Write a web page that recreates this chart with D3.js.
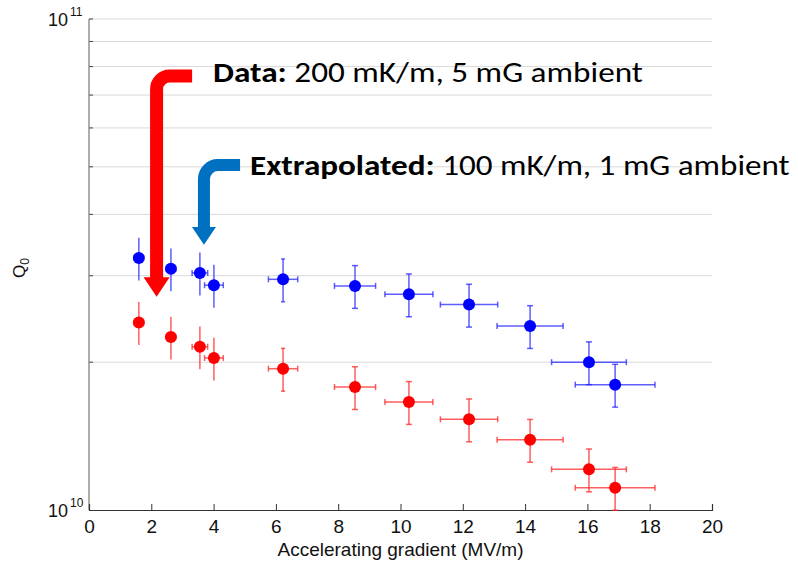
<!DOCTYPE html>
<html>
<head>
<meta charset="utf-8">
<script src="https://cdn.jsdelivr.net/npm/d3@7"></script>
<style>
  html, body { margin: 0; padding: 0; background: #fff; }
  svg { display: block; }
</style>
</head>
<body>
<svg id="chart" width="798" height="565"></svg>
<script>
// ---- Data ----
const gradient      = [1.6, 2.63, 3.56, 4.01, 6.23, 8.54, 10.27, 12.2, 14.16, 16.05, 16.89];
const gradientErr   = [0.15, 0.15, 0.25, 0.3, 0.47, 0.66, 0.77, 0.92, 1.06, 1.2, 1.28];
const q0Extrapolated = [3.26e10, 3.10e10, 3.04e10, 2.87e10, 2.95e10, 2.86e10, 2.75e10, 2.62e10, 2.37e10, 2.0e10, 1.80e10];
const q0Data         = [2.41e10, 2.25e10, 2.15e10, 2.04e10, 1.94e10, 1.78e10, 1.66e10, 1.53e10, 1.39e10, 1.21e10, 1.11e10];
const q0RelErr       = [0.1, 0.1, 0.1, 0.1, 0.1, 0.1, 0.1, 0.1, 0.1, 0.1, 0.1];
const xTicks = [0, 2, 4, 6, 8, 10, 12, 14, 16, 18, 20];
const yMajorTicks = [1e10, 1e11];
const yGridTicks = [2e10, 3e10, 4e10, 5e10, 6e10, 7e10, 8e10, 9e10, 1e11];
const xTitle = "Accelerating gradient (MV/m)";
const dataLabelBold = "Data:";
const dataLabelRest = " 200 mK/m, 5 mG ambient";
const extraLabelBold = "Extrapolated:";
const extraLabelRest = " 100 mK/m, 1 mG ambient";

const svg = d3.select("#chart");
const M = { left: 89, right: 712, top: 19, bottom: 510 };
const AXF = "Arial, 'Liberation Sans', Helvetica, sans-serif";

const x = d3.scaleLinear().domain([0, 20]).range([M.left, M.right]);
const y = d3.scaleLog().domain([1e10, 1e11]).range([M.bottom, M.top]);

// gridlines
svg.append("g").selectAll("line").data(yGridTicks).join("line")
  .attr("x1", M.left).attr("x2", M.right)
  .attr("y1", d => y(d)).attr("y2", d => y(d))
  .attr("stroke", "#d9d9d9").attr("stroke-width", 1);

// y minor ticks
svg.append("g").selectAll("line").data(yGridTicks).join("line")
  .attr("x1", M.left).attr("x2", M.left + 4)
  .attr("y1", d => y(d)).attr("y2", d => y(d))
  .attr("stroke", "#444").attr("stroke-width", 1);

// left axis line
svg.append("line").attr("x1", M.left).attr("x2", M.left)
  .attr("y1", M.top).attr("y2", M.bottom).attr("stroke", "#777").attr("stroke-width", 1.2);

// x axis
const xAxis = d3.axisBottom(x).tickValues(xTicks).tickSize(-6).tickPadding(10).tickFormat(d3.format("d"));
const gx = svg.append("g").attr("transform", `translate(0,${M.bottom})`).call(xAxis);
gx.select(".domain").attr("stroke", "#333").attr("stroke-width", 1.2);
gx.selectAll(".tick line").attr("stroke", "#333");
gx.selectAll(".tick text").attr("font-family", AXF)
  .attr("font-size", 19).attr("fill", "#111");

// y major labels 10^n
const yl = svg.append("g").attr("font-family", AXF).attr("fill", "#111");
yMajorTicks.forEach(v => {
  const e = Math.round(Math.log10(v));
  yl.append("text").attr("x", 68).attr("y", y(v) + 7).attr("text-anchor", "end")
    .attr("font-size", 18).text("10");
  yl.append("text").attr("x", 70).attr("y", y(v) - 3).attr("text-anchor", "start")
    .attr("font-size", 12).text(String(e));
});

// x title
svg.append("text").attr("x", (M.left + M.right) / 2).attr("y", 556)
  .attr("text-anchor", "middle").attr("font-family", AXF)
  .attr("font-size", 19).attr("fill", "#111").text(xTitle);

// y title Q0
const yt = svg.append("text").attr("transform", "translate(25,268) rotate(-90)")
  .attr("text-anchor", "middle").attr("font-family", AXF)
  .attr("font-size", 17).attr("fill", "#111");
yt.append("tspan").text("Q");
yt.append("tspan").attr("font-size", 12).attr("dy", 4).text("0");

// series drawing
function drawSeries(values, color, errColor) {
  const g = svg.append("g");
  const pts = gradient.map((gv, i) => ({ gx: gv, ge: gradientErr[i], q: values[i], re: q0RelErr[i] }));
  const cap = 3;
  const vcap = d => Math.min(3, Math.max(0, (d.ge - 0.3) * 12));
  const eb = g.selectAll("g.eb").data(pts).join("g").attr("class", "eb")
    .attr("stroke", errColor).attr("stroke-width", 1.5).attr("fill", "none");
  // vertical
  eb.append("line").attr("x1", d => x(d.gx)).attr("x2", d => x(d.gx))
    .attr("y1", d => y(d.q * (1 + d.re))).attr("y2", d => y(d.q * (1 - d.re)));
  eb.append("line").attr("x1", d => x(d.gx) - vcap(d)).attr("x2", d => x(d.gx) + vcap(d))
    .attr("y1", d => y(d.q * (1 + d.re))).attr("y2", d => y(d.q * (1 + d.re)));
  eb.append("line").attr("x1", d => x(d.gx) - vcap(d)).attr("x2", d => x(d.gx) + vcap(d))
    .attr("y1", d => y(d.q * (1 - d.re))).attr("y2", d => y(d.q * (1 - d.re)));
  // horizontal
  eb.append("line").attr("x1", d => x(d.gx - d.ge)).attr("x2", d => x(d.gx + d.ge))
    .attr("y1", d => y(d.q)).attr("y2", d => y(d.q));
  eb.append("line").attr("x1", d => x(d.gx - d.ge)).attr("x2", d => x(d.gx - d.ge))
    .attr("y1", d => y(d.q) - cap).attr("y2", d => y(d.q) + cap);
  eb.append("line").attr("x1", d => x(d.gx + d.ge)).attr("x2", d => x(d.gx + d.ge))
    .attr("y1", d => y(d.q) - cap).attr("y2", d => y(d.q) + cap);
  g.selectAll("circle").data(pts).join("circle")
    .attr("cx", d => x(d.gx)).attr("cy", d => y(d.q)).attr("r", 6).attr("fill", color);
}
drawSeries(q0Extrapolated, "#0000ff", "rgba(40,40,255,0.75)");
drawSeries(q0Data, "#ff0000", "rgba(255,40,40,0.75)");

// annotation arrows (in data coordinates)
function bentArrow(endX, topY, stemX, baseY, tipY, r, width, headW, color) {
  const ex = x(endX), ty = y(topY), sx = x(stemX), by = y(baseY), tip = y(tipY);
  svg.append("path")
    .attr("d", `M${ex},${ty} H${sx + r} A${r},${r} 0 0 0 ${sx},${ty + r} V${by + 1}`)
    .attr("fill", "none").attr("stroke", color).attr("stroke-width", width);
  svg.append("path")
    .attr("d", `M${sx - headW / 2},${by} L${sx + headW / 2},${by} L${sx},${tip} Z`)
    .attr("fill", color);
}
bentArrow(3.31, 7.65e10, 2.17, 2.98e10, 2.72e10, 13, 13, 26, "#ff0000");
bentArrow(4.85, 5.04e10, 3.69, 3.77e10, 3.47e10, 14, 12, 24, "#0070c0");

// annotation texts: cap height matched by font size, width matched by horizontal scale
function label(xpx, ypx, bold, rest, targetW) {
  const g = svg.append("g");
  const t = g.append("text").attr("x", 0).attr("y", 0)
    .attr("font-family", "Calibri, Carlito, Lato, 'Open Sans', sans-serif")
    .attr("font-size", 28).attr("fill", "#000");
  t.append("tspan").attr("font-weight", "bold").text(bold);
  t.append("tspan").text(rest);
  const w = t.node().getComputedTextLength();
  g.attr("transform", `translate(${xpx},${ypx}) scale(${targetW / w},1)`);
}
label(213, 82, dataLabelBold, dataLabelRest, 430);
label(250, 175, extraLabelBold, extraLabelRest, 540);
</script>
</body>
</html>
